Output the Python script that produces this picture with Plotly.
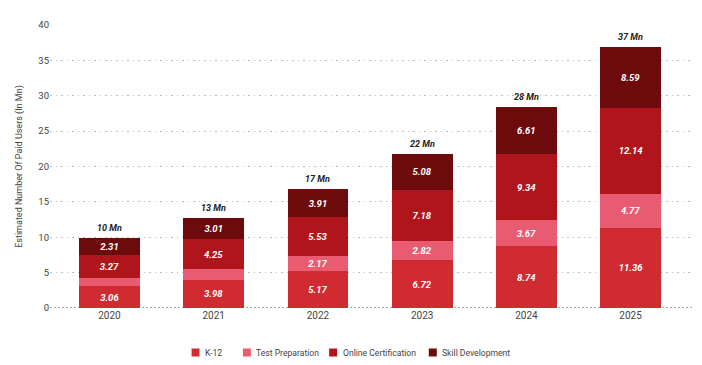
import plotly.graph_objects as go

years = ["2020", "2021", "2022", "2023", "2024", "2025"]
k12 = [3.06, 3.98, 5.17, 6.72, 8.74, 11.36]
test_prep = [1.20, 1.50, 2.17, 2.82, 3.67, 4.77]
online_cert = [3.27, 4.25, 5.53, 7.18, 9.34, 12.14]
skill_dev = [2.31, 3.01, 3.91, 5.08, 6.61, 8.59]
y_ticks = [0, 5, 10, 15, 20, 25, 30, 35, 40]

series_names = ["K-12", "Test Preparation", "Online Certification", "Skill Development"]
series_values = [k12, test_prep, online_cert, skill_dev]
series_colors = ["#cf2b31", "#e85b70", "#b0151b", "#6d0a0c"]

FONT = "Roboto, Inter, 'Liberation Sans', sans-serif"
TXT = "#444444"

# figure is offset by the page's 8px body margin, so size accordingly
W, H = 694, 357
ML, MR, MT, MB = 40, 10, 17, 57
PW, PH = W - ML - MR, H - MT - MB

fig = go.Figure()
for name, vals, color in zip(series_names, series_values, series_colors):
    labels = [f"{v:.2f}" if v >= 2 else "" for v in vals]
    fig.add_trace(go.Bar(
        name=name, x=years, y=vals, marker=dict(color=color, line=dict(width=0)),
        width=0.583, text=labels, textposition="inside", insidetextanchor="middle",
        textangle=0, constraintext="none", showlegend=False,
        textfont=dict(family=FONT, size=9.5, color="white", weight="bold", style="italic"),
        hoverinfo="skip",
    ))

totals = [a + b + c + d for a, b, c, d in zip(k12, test_prep, online_cert, skill_dev)]
annotations = []
for i, t in enumerate(totals):
    annotations.append(dict(
        x=i, y=t, xref="x", yref="y", text=f"{round(t)} Mn", showarrow=False,
        yanchor="bottom", yshift=3,
        font=dict(family=FONT, size=9, color="#222222", weight="bold", style="italic"),
    ))

# manual legend (page pixel positions converted to paper coords)
def px_x(px):
    return (px - 8 - ML) / PW

def px_y(py):
    return (H - MB - (py - 8)) / PH

shapes = []
legend_marker_left = [190, 241.5, 328, 428]
for name, color, left in zip(series_names, series_colors, legend_marker_left):
    shapes.append(dict(type="rect", xref="paper", yref="paper",
                       x0=px_x(left), x1=px_x(left + 8), y0=px_y(356.5), y1=px_y(348.5),
                       fillcolor=color, line=dict(width=0)))
    annotations.append(dict(x=px_x(left + 11.5), y=px_y(352.5), xref="paper", yref="paper",
                            text=name, showarrow=False, xanchor="left", yanchor="middle",
                            font=dict(family=FONT, size=8.6, color=TXT)))

# darker dotted baseline
shapes.append(dict(type="line", xref="paper", yref="y", x0=0, x1=1, y0=0, y1=0,
                   line=dict(color="#8a8a8a", width=1.3, dash="2px,2px"), layer="below"))

fig.update_layout(
    barmode="stack",
    width=W, height=H,
    margin=dict(l=ML, r=MR, t=MT, b=MB),
    paper_bgcolor="white", plot_bgcolor="white",
    font=dict(family=FONT, size=10, color=TXT),
    showlegend=False,
    annotations=annotations,
    shapes=shapes,
    xaxis=dict(type="category", range=[-0.570, 5.589], showgrid=False, showline=False,
               ticks="", tickfont=dict(size=10, color=TXT), fixedrange=True),
    yaxis=dict(range=[0, 40], tickvals=y_ticks, showgrid=True, gridcolor="#bcbcbc",
               griddash="1.5px,4px", gridwidth=1, zeroline=False, showline=False, ticks="",
               tickfont=dict(size=9.5, color=TXT),
               title=dict(text="Estimated Number Of Paid Users (In Mn)",
                          font=dict(size=9, color=TXT), standoff=14)),
)

fig.write_html("out.html")
